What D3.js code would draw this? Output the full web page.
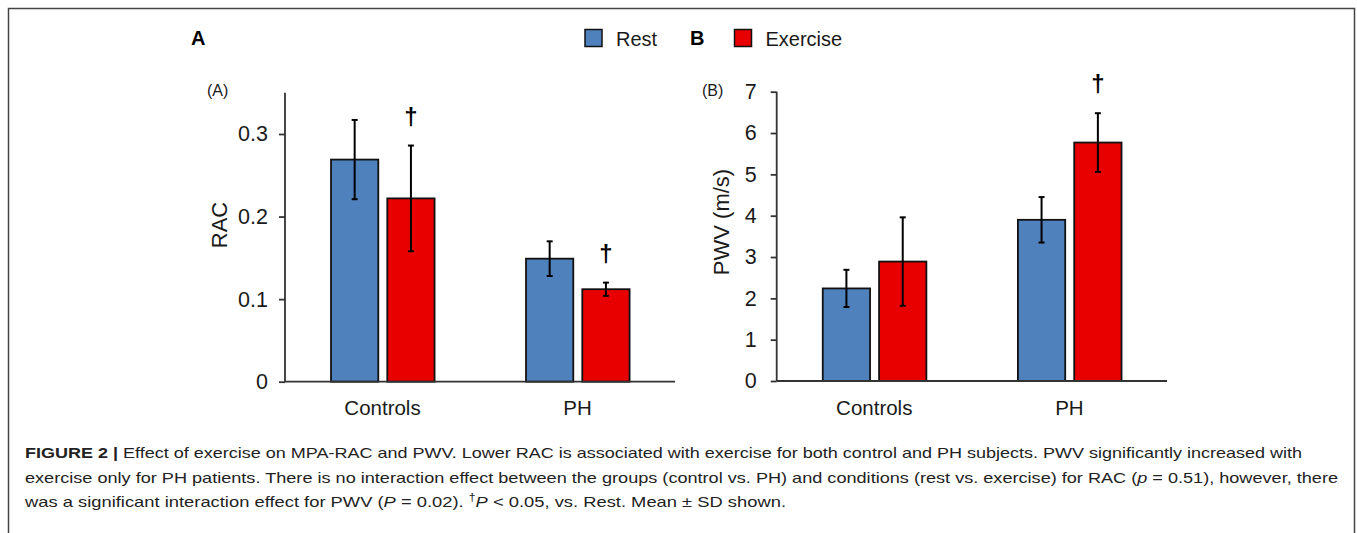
<!DOCTYPE html>
<html>
<head>
<meta charset="utf-8">
<script src="https://cdn.jsdelivr.net/npm/d3@7"></script>
<style>
  body { margin: 0; background: #fff; }
  text { font-family: Arial, "Liberation Sans", sans-serif; }
</style>
</head>
<body>
<svg id="fig" width="1357" height="533"></svg>
<script>
// data
let groups = ["Controls", "PH"]
let series = ["Rest", "Exercise"]
let racMean = [[0.269, 0.222], [0.149, 0.112]]
let racSD = [[0.048, 0.064], [0.021, 0.008]]
let racSig = [[false, true], [false, true]]
let pwvMean = [[2.24, 2.89], [3.90, 5.77]]
let pwvSD = [[0.45, 1.07], [0.55, 0.71]]
let pwvSig = [[false, false], [false, true]]
let racTicks = [0, 0.1, 0.2, 0.3]
let pwvTicks = [0, 1, 2, 3, 4, 5, 6, 7]

let colors = {Rest: "#4f81bd", Exercise: "#e80000"}
let ink = "#1a1a1a"

let svg = d3.select("#fig")

// outer frame
svg.append("rect")
  .attr("x", 8.5).attr("y", 8.5)
  .attr("width", 1346).attr("height", 600)
  .attr("fill", "none")
  .attr("stroke", "#444")
  .attr("stroke-width", 1.5)

// panel letters + legend
svg.append("text").attr("x", 191).attr("y", 44.5)
  .attr("font-size", 20).attr("font-weight", "bold").attr("fill", "#000").text("A")
svg.append("text").attr("x", 690).attr("y", 44.5)
  .attr("font-size", 20).attr("font-weight", "bold").attr("fill", "#000").text("B")

let legendPos = [{name: "Rest", x: 585}, {name: "Exercise", x: 734.5}]
legendPos.forEach(l => {
  svg.append("rect")
    .attr("x", l.x).attr("y", 29.5)
    .attr("width", 17).attr("height", 17)
    .attr("fill", colors[l.name])
    .attr("stroke", "#111").attr("stroke-width", 1.5)
  svg.append("text")
    .attr("x", l.x + 31).attr("y", 45.5)
    .attr("font-size", 20)
    .attr("fill", ink)
    .text(l.name)
})

function drawPanel(opt) {
  let g = svg.append("g")

  let x = d3.scaleBand().domain(groups).range([opt.left, opt.right])
  let xSub = d3.scaleBand().domain(series)
    .range([x.bandwidth() * 0.236, x.bandwidth() * 0.767])
    .paddingInner(0.16)
  let y = d3.scaleLinear().domain([0, opt.max]).range([opt.bottom, opt.top])

  // y axis
  let yAxis = g.append("g")
    .attr("transform", `translate(${opt.left},0)`)
    .call(d3.axisLeft(y).tickValues(opt.ticks).tickSize(6).tickPadding(opt.pad).tickFormat(opt.fmt))
  yAxis.select(".domain").attr("stroke", "#333").attr("stroke-width", 1.8).attr("d", `M0,${opt.top}V${opt.bottom}`)
  yAxis.selectAll(".tick line").attr("stroke", "#333").attr("stroke-width", 1.8)
  yAxis.selectAll(".tick text").attr("font-size", 21.5).attr("fill", ink)
    .style("font-family", "Arial, 'Liberation Sans', sans-serif")

  let rows = []
  groups.forEach((grp, i) => series.forEach((s, j) => {
    rows.push({grp: grp, s: s, m: opt.mean[i][j], sd: opt.sd[i][j], sig: opt.sig[i][j]})
  }))

  // bars
  g.selectAll("rect.bar").data(rows).enter().append("rect")
    .attr("class", "bar")
    .attr("x", d => x(d.grp) + xSub(d.s))
    .attr("width", xSub.bandwidth())
    .attr("y", d => y(d.m))
    .attr("height", d => y(0) - y(d.m))
    .attr("fill", d => colors[d.s])
    .attr("stroke", "#111").attr("stroke-width", 1.8)

  // x axis line drawn over the bar bottoms
  g.append("line")
    .attr("x1", opt.left).attr("x2", opt.right)
    .attr("y1", y(0)).attr("y2", y(0))
    .attr("stroke", "#333").attr("stroke-width", 1.8)

  // error bars
  let cx = d => x(d.grp) + xSub(d.s) + xSub.bandwidth() / 2
  let err = g.selectAll("g.err").data(rows).enter().append("g").attr("class", "err")
    .attr("stroke", "#000").attr("stroke-width", 2)
  err.append("line")
    .attr("x1", cx).attr("x2", cx)
    .attr("y1", d => y(d.m + d.sd)).attr("y2", d => y(d.m - d.sd))
  err.append("line")
    .attr("x1", d => cx(d) - 3).attr("x2", d => cx(d) + 3)
    .attr("y1", d => y(d.m + d.sd)).attr("y2", d => y(d.m + d.sd))
  err.append("line")
    .attr("x1", d => cx(d) - 3).attr("x2", d => cx(d) + 3)
    .attr("y1", d => y(d.m - d.sd)).attr("y2", d => y(d.m - d.sd))

  // significance daggers
  g.selectAll("text.sig").data(rows.filter(d => d.sig)).enter().append("text")
    .attr("class", "sig")
    .attr("x", cx)
    .attr("y", d => y(d.m + d.sd) - 21)
    .attr("text-anchor", "middle")
    .attr("font-size", 24)
    .attr("font-weight", "bold")
    .attr("fill", "#000")
    .text("\u2020")

  // category labels
  g.selectAll("text.cat").data(groups).enter().append("text")
    .attr("class", "cat")
    .attr("x", d => x(d) + x.bandwidth() / 2)
    .attr("y", 415)
    .attr("text-anchor", "middle")
    .attr("font-size", 20.5)
    .attr("fill", ink)
    .text(d => d)

  // y title
  g.append("text")
    .attr("transform", `translate(${opt.titleX},${opt.titleY}) rotate(-90)`)
    .attr("text-anchor", "middle")
    .attr("font-size", 22)
    .attr("fill", ink)
    .text(opt.title)

  // panel tag
  g.append("text")
    .attr("x", opt.tagX).attr("y", 96)
    .attr("font-size", 16)
    .attr("fill", ink)
    .text(opt.tag)
}

drawPanel({
  left: 285, right: 675, top: 92.7, bottom: 381.7, max: 0.35,
  ticks: racTicks, fmt: d => d === 0 ? "0" : d3.format(".1f")(d), pad: 11,
  mean: racMean, sd: racSD, sig: racSig,
  title: "RAC", titleX: 227, titleY: 225, tag: "(A)", tagX: 207
})

drawPanel({
  left: 776.7, right: 1167, top: 91.7, bottom: 381, max: 7,
  ticks: pwvTicks, fmt: d3.format("d"), pad: 14,
  mean: pwvMean, sd: pwvSD, sig: pwvSig,
  title: "PWV (m/s)", titleX: 729, titleY: 222, tag: "(B)", tagX: 702
})

// caption
let cap = svg.append("g").attr("font-size", 15).attr("fill", "#222")
let l1 = cap.append("text").attr("x", 25).attr("y", 458).attr("textLength", 1277).attr("lengthAdjust", "spacingAndGlyphs")
l1.append("tspan").attr("font-weight", "bold").text("FIGURE 2 |")
l1.append("tspan").text(" Effect of exercise on MPA-RAC and PWV. Lower RAC is associated with exercise for both control and PH subjects. PWV significantly increased with")

let l2 = cap.append("text").attr("x", 25).attr("y", 483).attr("textLength", 1313).attr("lengthAdjust", "spacingAndGlyphs")
l2.append("tspan").text("exercise only for PH patients. There is no interaction effect between the groups (control vs. PH) and conditions (rest vs. exercise) for RAC (")
l2.append("tspan").attr("font-style", "italic").text("p")
l2.append("tspan").text(" = 0.51), however, there")

let l3 = cap.append("text").attr("x", 25).attr("y", 507).attr("textLength", 761).attr("lengthAdjust", "spacingAndGlyphs")
l3.append("tspan").text("was a significant interaction effect for PWV (")
l3.append("tspan").attr("font-style", "italic").text("P")
l3.append("tspan").text(" = 0.02). ")
l3.append("tspan").attr("font-size", 10).attr("dy", -6).text("\u2020")
l3.append("tspan").attr("font-style", "italic").attr("dy", 6).text("P")
l3.append("tspan").text(" < 0.05, vs. Rest. Mean \u00b1 SD shown.")
</script>
</body>
</html>
